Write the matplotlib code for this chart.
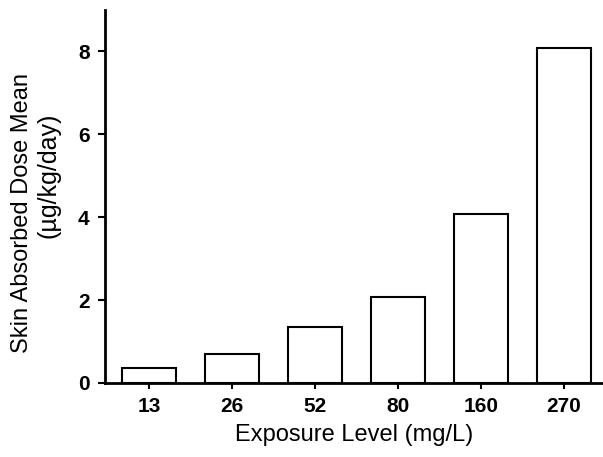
import matplotlib
matplotlib.use("Agg")
import matplotlib.pyplot as plt

categories = ["13", "26", "52", "80", "160", "270"]
values = [0.37, 0.70, 1.35, 2.07, 4.08, 8.08]
yticks = [0, 2, 4, 6, 8]

plt.rcParams['font.family'] = ['Liberation Sans', 'DejaVu Sans']

fig = plt.figure(figsize=(6.03, 4.57), dpi=100)
ax = fig.add_axes([0.174, 0.162, 0.826, 0.816])

x = list(range(len(categories)))
ax.bar(x, values, width=0.65, color='white', edgecolor='black', linewidth=1.5)

ax.set_xlim(-0.53, 5.47)
ax.set_ylim(0, 9)
ax.set_xticks(x)
ax.set_xticklabels(categories, fontweight='bold', fontsize=15)
ax.set_yticks(yticks)
ax.set_yticklabels([str(t) for t in yticks], fontweight='bold', fontsize=15)

for s in ['top', 'right']:
    ax.spines[s].set_visible(False)
for s in ['left', 'bottom']:
    ax.spines[s].set_linewidth(2)

ax.tick_params(axis='y', direction='out', length=5, width=1.5, pad=6)
ax.tick_params(axis='x', direction='out', length=4, width=1.5, pad=6)

ax.set_xlabel("Exposure Level (mg/L)", fontsize=17, labelpad=6)
fig.text(0.037, 0.534, "Skin Absorbed Dose Mean", rotation=90, fontsize=17,
         ha='center', va='center')
fig.text(0.08, 0.617, "(µg/kg/day)", rotation=90, fontsize=18,
         ha='center', va='center')

fig.savefig("out.png", dpi=100)
